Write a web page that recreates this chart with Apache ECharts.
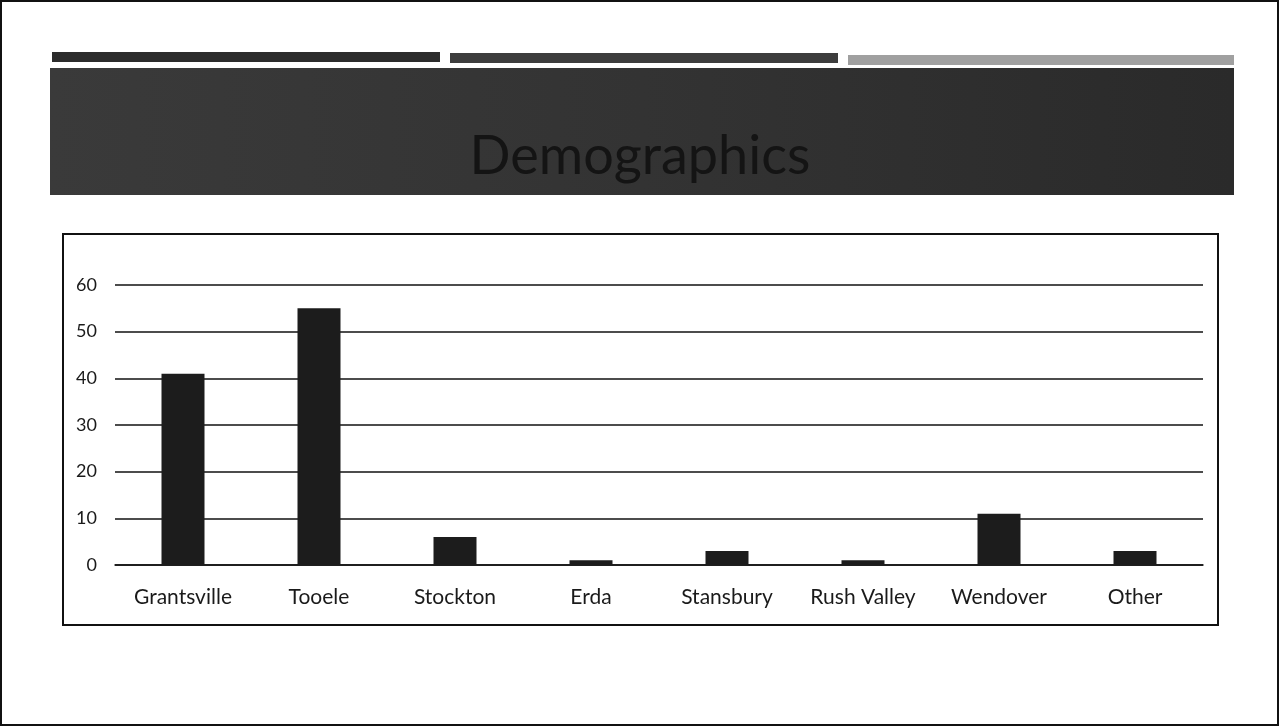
<!DOCTYPE html>
<html>
<head>
<meta charset="utf-8">
<title>Demographics</title>
<script src="https://cdn.jsdelivr.net/npm/echarts@6/dist/echarts.min.js"></script>
<style>
  html, body { margin: 0; padding: 0; background: #fff; }
  #chart { width: 1280px; height: 727px; }
</style>
</head>
<body>
<div id="chart"></div>
<script>
// Respondents by community
const categories = ['Grantsville', 'Tooele', 'Stockton', 'Erda', 'Stansbury', 'Rush Valley', 'Wendover', 'Other'];
const counts = [41, 55, 6, 1, 3, 1, 11, 3];
const yTicks = [0, 10, 20, 30, 40, 50, 60];

const FONT = 'Lato, "Open Sans", sans-serif';
const chart = echarts.init(document.getElementById('chart'), null, { renderer: 'canvas' });

chart.setOption({
  backgroundColor: '#fff',
  animation: false,
  title: {
    text: 'Demographics',
    left: 'center',
    top: 125,
    textStyle: { fontFamily: FONT, fontSize: 54, fontWeight: 'normal', color: '#141414' }
  },
  graphic: [
    // slide frame
    { type: 'rect', shape: { x: 1, y: 1, width: 1277, height: 724 }, style: { fill: 'none', stroke: '#111', lineWidth: 2 }, z: -10 },
    // header accent strips
    { type: 'rect', shape: { x: 52, y: 52, width: 388, height: 10 }, style: { fill: '#2c2c2c' }, z: -5 },
    { type: 'rect', shape: { x: 450, y: 53, width: 388, height: 10 }, style: { fill: '#3d3d3d' }, z: -5 },
    { type: 'rect', shape: { x: 848, y: 55, width: 386, height: 10 }, style: { fill: '#a0a0a0' }, z: -5 },
    // title band
    { type: 'rect', shape: { x: 50, y: 68, width: 1184, height: 127 },
      style: { fill: new echarts.graphic.LinearGradient(0, 0, 1, 0, [
        { offset: 0, color: '#3a3a3a' }, { offset: 0.5, color: '#333' }, { offset: 1, color: '#2a2a2a' }
      ]) }, z: -5 },
    // chart box
    { type: 'rect', shape: { x: 63, y: 234, width: 1155, height: 391 }, style: { fill: 'none', stroke: '#111', lineWidth: 2 }, z: -5 }
  ],
  grid: { left: 115, right: 77, top: 285, bottom: 162, containLabel: false },
  xAxis: {
    type: 'category',
    data: categories,
    axisLine: { lineStyle: { color: '#111', width: 1.5 } },
    axisTick: { show: false },
    axisLabel: { interval: 0, hideOverlap: false, fontFamily: FONT, fontSize: 21, color: '#1a1a1a', margin: 22 }
  },
  yAxis: {
    type: 'value',
    min: yTicks[0],
    max: yTicks[yTicks.length - 1],
    interval: 10,
    axisLine: { show: false },
    axisTick: { show: false },
    splitLine: { lineStyle: { color: '#111', width: 1.5 } },
    axisLabel: { fontFamily: FONT, fontSize: 18, color: '#1a1a1a', margin: 18 }
  },
  series: [{
    type: 'bar',
    data: counts,
    barWidth: 43,
    itemStyle: { color: '#1c1c1c' }
  }]
});
</script>
</body>
</html>
